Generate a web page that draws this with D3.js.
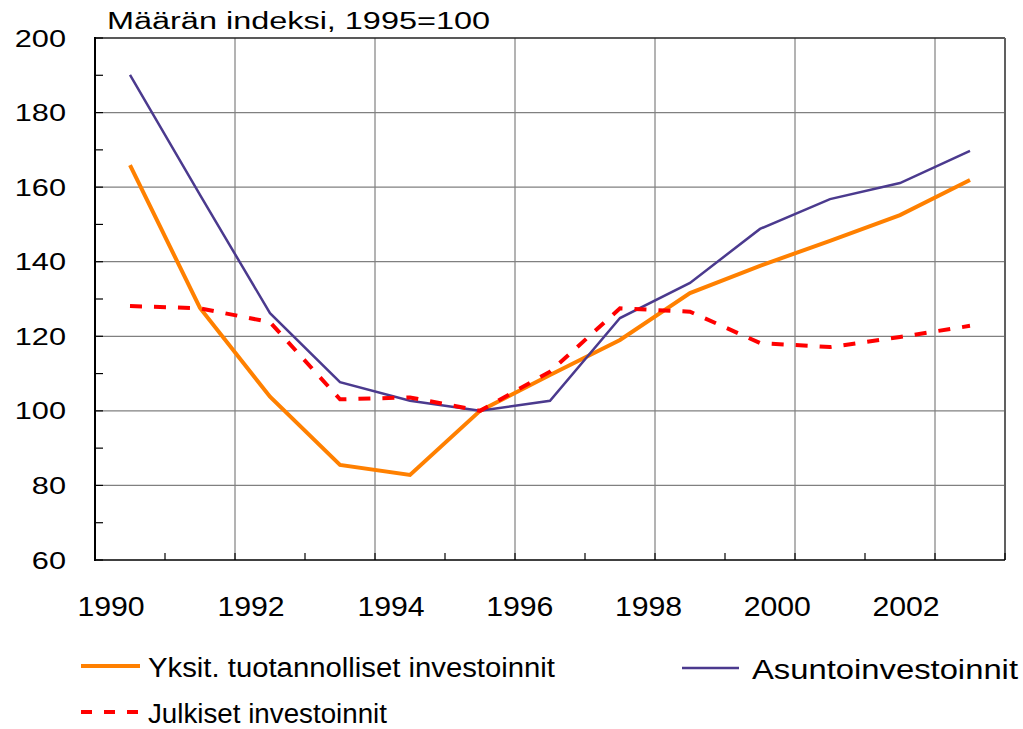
<!DOCTYPE html>
<html>
<head>
<meta charset="utf-8">
<script src="https://cdn.jsdelivr.net/npm/d3@7"></script>
<style>
  body { margin: 0; background: #fff; }
  text { font-family: "Liberation Sans", Arial, sans-serif; fill: #000; }
</style>
</head>
<body>
<svg id="chart" width="1023" height="729"></svg>
<script>
// index values, 1995 = 100
var years = [1990, 1991, 1992, 1993, 1994, 1995, 1996, 1997, 1998, 1999, 2000, 2001, 2002];
var yksit = [165.9, 127.6, 103.8, 85.5, 82.8, 100, 109.6, 119.0, 131.6, 138.9, 145.6, 152.5, 161.9];
var asunto = [190.1, 157.9, 126.2, 107.7, 102.7, 100, 102.7, 124.9, 134.3, 148.8, 156.8, 161.1, 169.7];
var julkiset = [128.1, 127.5, 123.8, 103.1, 103.6, 100, 110.5, 127.5, 126.6, 118.2, 117.1, 119.8, 122.8];
var yTicks = [60, 80, 100, 120, 140, 160, 180, 200];
var xLabels = [1990, 1992, 1994, 1996, 1998, 2000, 2002];
var seriesNames = ['Yksit. tuotannolliset investoinnit', 'Asuntoinvestoinnit', 'Julkiset investoinnit'];

var svg = d3.select('#chart');
var plotL = 95, plotR = 1005, plotT = 38, plotB = 560;

var x = d3.scaleBand().domain(years).range([plotL, plotR]);
var y = d3.scaleLinear().domain([60, 200]).range([plotB, plotT]);
var cx = function (yr) { return x(yr) + x.bandwidth() / 2; };
// labels in the original drift a little from the tick positions
var xLab = d3.scaleLinear().domain([1990, 1994, 2002]).range([111, 391, 906]);

// horizontal grid
svg.append('g').selectAll('line')
    .data(yTicks.slice(1, -1))
    .enter().append('line')
    .attr('x1', plotL).attr('x2', plotR)
    .attr('y1', function (d) { return y(d); })
    .attr('y2', function (d) { return y(d); })
    .style('stroke', '#808080').style('stroke-width', 1.2);

// vertical grid, every second category boundary
var boundaries = years.map(function (yr) { return x(yr); }).concat([plotR]);
svg.append('g').selectAll('line')
    .data(boundaries.filter(function (d, i) { return i % 2 === 0 && i > 0 && i < boundaries.length - 1; }))
    .enter().append('line')
    .attr('x1', function (d) { return d; }).attr('x2', function (d) { return d; })
    .attr('y1', plotT).attr('y2', plotB)
    .style('stroke', '#808080').style('stroke-width', 1.2);

// plot frame
svg.append('line').attr('x1', plotL).attr('x2', plotR).attr('y1', plotT).attr('y2', plotT)
    .style('stroke', '#222').style('stroke-width', 1.5);
svg.append('line').attr('x1', plotR).attr('x2', plotR).attr('y1', plotT).attr('y2', plotB)
    .style('stroke', '#606060').style('stroke-width', 2);

// y axis with inward ticks every 10
svg.append('g').selectAll('line')
    .data(d3.range(60, 201, 10))
    .enter().append('line')
    .attr('x1', plotL).attr('x2', plotL + 8)
    .attr('y1', function (d) { return y(d); })
    .attr('y2', function (d) { return y(d); })
    .style('stroke', '#000').style('stroke-width', 1.2);
svg.append('line').attr('x1', plotL).attr('x2', plotL).attr('y1', plotT - 1).attr('y2', plotB + 1)
    .style('stroke', '#000').style('stroke-width', 2);

// x axis with inward ticks on each category boundary
svg.append('g').selectAll('line')
    .data(boundaries)
    .enter().append('line')
    .attr('x1', function (d) { return d; }).attr('x2', function (d) { return d; })
    .attr('y1', plotB).attr('y2', plotB - 7)
    .style('stroke', '#000').style('stroke-width', 1.2);
svg.append('line').attr('x1', plotL).attr('x2', plotR).attr('y1', plotB).attr('y2', plotB)
    .style('stroke', '#000').style('stroke-width', 1.5);

// tick labels
svg.append('g').selectAll('text')
    .data(yTicks)
    .enter().append('text')
    .attr('transform', function (d) { return 'translate(66,' + (y(d) + 8.5) + ') scale(1.28,1)'; })
    .attr('text-anchor', 'end')
    .style('font-size', '24px')
    .text(function (d) { return d; });

svg.append('g').selectAll('text')
    .data(xLabels)
    .enter().append('text')
    .attr('transform', function (d) { return 'translate(' + xLab(d) + ',616) scale(1.08,1)'; })
    .attr('text-anchor', 'middle')
    .style('font-size', '28px')
    .text(function (d) { return d; });

// title
svg.append('text')
    .attr('x', 107).attr('y', 29)
    .attr('textLength', 383).attr('lengthAdjust', 'spacingAndGlyphs')
    .style('font-size', '23px')
    .text('Määrän indeksi, 1995=100');

// series
var line = d3.line()
    .x(function (d, i) { return cx(years[i]); })
    .y(function (d) { return y(d); });

svg.append('path').datum(yksit)
    .attr('d', line)
    .style('fill', 'none').style('stroke', '#ff8000').style('stroke-width', 4);
svg.append('path').datum(asunto)
    .attr('d', line)
    .style('fill', 'none').style('stroke', '#4b3a8e').style('stroke-width', 2.5);
svg.append('path').datum(julkiset)
    .attr('d', line)
    .style('fill', 'none').style('stroke', '#ff0000').style('stroke-width', 4)
    .style('stroke-dasharray', '12,12');

// legend
var legend = [
    {name: seriesNames[0], x: 81, y: 666, color: '#ff8000', w: 4, dash: null, len: 59, tl: 407},
    {name: seriesNames[1], x: 682, y: 668, color: '#4b3a8e', w: 2.5, dash: null, len: 57, tl: 266},
    {name: seriesNames[2], x: 81, y: 712, color: '#ff0000', w: 4, dash: '11,12', len: 59, tl: 239}
];
var lg = svg.append('g').selectAll('g').data(legend).enter().append('g');
lg.append('line')
    .attr('x1', function (d) { return d.x; })
    .attr('x2', function (d) { return d.x + d.len; })
    .attr('y1', function (d) { return d.y; })
    .attr('y2', function (d) { return d.y; })
    .style('stroke', function (d) { return d.color; })
    .style('stroke-width', function (d) { return d.w; })
    .style('stroke-dasharray', function (d) { return d.dash; });
lg.append('text')
    .attr('x', function (d) { return d.x + d.len + 8 + (d.name === seriesNames[1] ? 5 : 0); })
    .attr('y', function (d) { return d.y + 11; })
    .attr('textLength', function (d) { return d.tl; })
    .attr('lengthAdjust', 'spacingAndGlyphs')
    .style('font-size', '27px')
    .text(function (d) { return d.name; });
</script>
</body>
</html>
